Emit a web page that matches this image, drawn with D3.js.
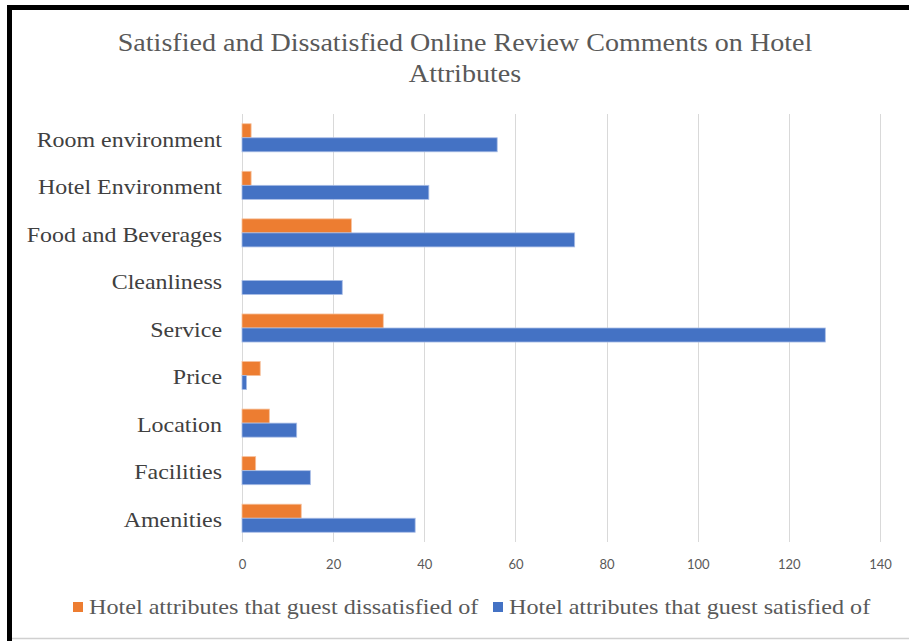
<!DOCTYPE html>
<html>
<head>
<meta charset="utf-8">
<script src="https://cdn.jsdelivr.net/npm/d3@7"></script>
<style>
  body { margin: 0; background: #fff; }
  svg { display: block; }
</style>
</head>
<body>
<div id="chart"></div>
<script>
// data
var categories = ['Room environment', 'Hotel Environment', 'Food and Beverages', 'Cleanliness',
  'Service', 'Price', 'Location', 'Facilities', 'Amenities'];
var dissatisfied = [2, 2, 24, 0, 31, 4, 6, 3, 13];
var satisfied = [56, 41, 73, 22, 128, 1, 12, 15, 38];
var seriesNames = ['Hotel attributes that guest dissatisfied of', 'Hotel attributes that guest satisfied of'];
var xTicks = [0, 20, 40, 60, 80, 100, 120, 140];

var width = 909, height = 641;
var colors = ['#ED7D31', '#4472C4'];
var serif = '"Liberation Serif", "Times New Roman", serif';

var svg = d3.select('#chart').append('svg')
  .attr('width', width)
  .attr('height', height);

// frame
svg.append('line').attr('x1', 12).attr('x2', width).attr('y1', 638.5).attr('y2', 638.5)
  .attr('stroke', '#d0d0d0').attr('stroke-width', 1.5);
svg.append('line').attr('x1', 9.5).attr('x2', 9.5).attr('y1', 5).attr('y2', height)
  .attr('stroke', '#000').attr('stroke-width', 5);
svg.append('line').attr('x1', 7).attr('x2', width).attr('y1', 7.5).attr('y2', 7.5)
  .attr('stroke', '#000').attr('stroke-width', 5);

// title (the source text is a bit wider than the font, so stretch x)
var title = svg.append('g')
  .attr('transform', 'translate(465,0) scale(1.08,1)')
  .append('text')
  .attr('text-anchor', 'middle')
  .attr('font-family', serif)
  .attr('font-size', 26)
  .attr('fill', '#595959');
title.append('tspan').attr('x', 0).attr('y', 51).text('Satisfied and Dissatisfied Online Review Comments on Hotel');
title.append('tspan').attr('x', 0).attr('y', 82).text('Attributes');

var xScale = d3.scaleLinear()
  .domain([0, 140])
  .range([242, 880]);

var yScale = d3.scaleBand()
  .domain(categories)
  .range([114, 542])
  .paddingInner(0.41)
  .paddingOuter(0.205);

var ySub = d3.scaleBand()
  .domain([0, 1])
  .range([0, yScale.bandwidth()]);

// gridlines
svg.append('g')
  .selectAll('line')
  .data(xTicks)
  .join('line')
  .attr('x1', d => Math.round(xScale(d)) + 0.5)
  .attr('x2', d => Math.round(xScale(d)) + 0.5)
  .attr('y1', 114)
  .attr('y2', 542)
  .attr('stroke', '#d9d9d9')
  .attr('stroke-width', 1);

// x axis labels
var xAxis = svg.append('g')
  .attr('transform', 'translate(0,544)')
  .call(d3.axisBottom(xScale).tickValues(xTicks).tickSize(0).tickPadding(16));
xAxis.select('.domain').remove();
xAxis.selectAll('text')
  .attr('font-family', 'Lato, "Open Sans", sans-serif')
  .attr('font-size', 13)
  .attr('fill', '#595959');

// category labels
var yAxis = svg.append('g')
  .attr('transform', 'translate(222,2) scale(1.14,1)')
  .call(d3.axisLeft(yScale).tickSize(0).tickPadding(0));
yAxis.select('.domain').remove();
yAxis.selectAll('text')
  .attr('font-family', serif)
  .attr('font-size', 21)
  .attr('fill', '#404040');

// bars
var rows = categories.map((c, i) => ({ cat: c, vals: [dissatisfied[i], satisfied[i]] }));

var groups = svg.append('g')
  .selectAll('g')
  .data(rows)
  .join('g')
  .attr('transform', d => 'translate(0,' + yScale(d.cat) + ')');

groups.selectAll('rect')
  .data(d => d.vals.map((v, k) => ({ v: v, k: k })))
  .join('rect')
  .attr('x', xScale(0))
  .attr('y', d => ySub(d.k))
  .attr('width', d => xScale(d.v) - xScale(0))
  .attr('height', ySub.bandwidth())
  .attr('fill', d => colors[d.k])
  .attr('stroke', d => d.v > 0 ? (d.k ? '#a9bde6' : '#f6c09c') : 'none')
  .attr('stroke-width', 0.8);

// legend
var legendX = [73, 493];
var legend = svg.append('g')
  .selectAll('g')
  .data(seriesNames)
  .join('g')
  .attr('transform', (d, i) => 'translate(' + legendX[i] + ',607)');

legend.append('rect')
  .attr('x', 0).attr('y', -5)
  .attr('width', 10).attr('height', 10)
  .attr('fill', (d, i) => colors[i]);

legend.append('g')
  .attr('transform', 'translate(16,0) scale(1.15,1)')
  .append('text')
  .attr('y', 7)
  .attr('font-family', serif)
  .attr('font-size', 21)
  .attr('fill', '#595959')
  .text(d => d);
</script>
</body>
</html>
